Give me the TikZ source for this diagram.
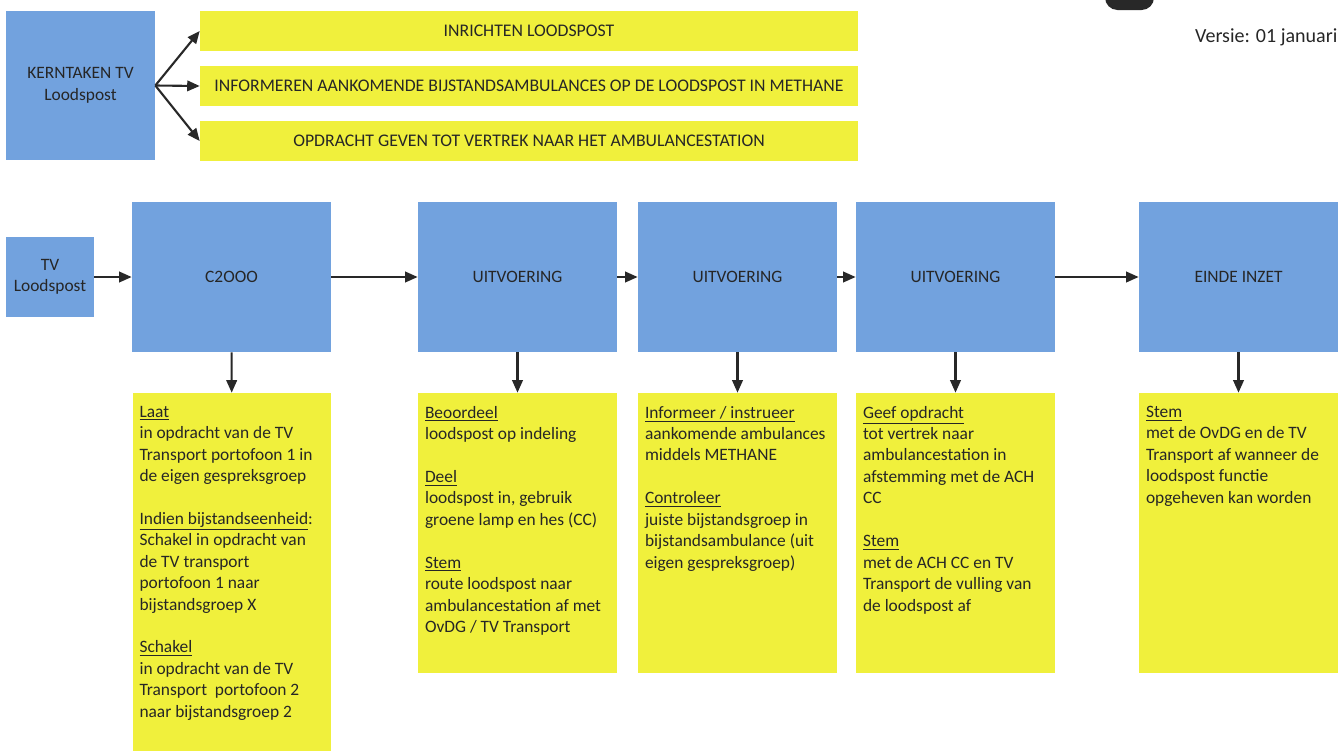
\documentclass[tikz,border=0pt]{standalone}
\usepackage{fontspec}
\setmainfont{Carlito}
\usepackage{xcolor}
\usetikzlibrary{arrows.meta}
\definecolor{taakblauw}{RGB}{114,162,222}
\definecolor{taakgeel}{RGB}{240,240,60}
\definecolor{pijlgrijs}{RGB}{40,40,40}
\newcommand{\leeg}{\\[\baselineskip]}

\begin{document}
\begin{tikzpicture}[x=0.02cm, y=-0.02cm,
	font=\fontsize{9.9}{12.2}\selectfont, text=black!85,
	blauw/.style={fill=taakblauw, minimum width=3.98cm, minimum height=3cm, align=center, inner sep=0pt},
	geel/.style={fill=taakgeel, minimum width=3.98cm, minimum height=5.6cm, inner sep=0pt},
	balk/.style={fill=taakgeel, minimum width=13.16cm, minimum height=0.8cm, inner sep=0pt, font=\fontsize{10.1}{12}\selectfont},
	tekst/.style={anchor=north west, align=left, inner sep=0.14cm, yshift=-0.12cm},
	pijl/.style={draw=pijlgrijs, line width=1.2pt, -{Triangle[length=0.25cm, width=0.21cm]}}]
	\useasboundingbox (0,0) rectangle (1341,751);
	\fill[pijlgrijs, rounded corners=0.25cm] (1105,-20) rectangle (1154,10);
	\node[anchor=west, font=\fontsize{11.4}{13}\selectfont] (versie) at (1189,37) {Versie: 01 januari};

	\node[blauw, minimum width=2.98cm, minimum height=2.98cm] (kern) at (80.5,85.5) {KERNTAKEN TV\\Loodspost};
	\node[balk] (inrichten) at (529,31) {INRICHTEN LOODSPOST};
	\node[balk] (informeren) at (529,86) {INFORMEREN AANKOMENDE BIJSTANDSAMBULANCES OP DE LOODSPOST IN METHANE};
	\node[balk] (opdracht) at (529,141) {OPDRACHT GEVEN TOT VERTREK NAAR HET AMBULANCESTATION};
	\draw[pijl] (kern.east) -- (inrichten.west);
	\draw[pijl] (kern.east) -- (informeren.west);
	\draw[pijl] (kern.east) -- (opdracht.west);

	\node[blauw, minimum width=1.76cm, minimum height=1.6cm] (tv) at (50,277) {TV\\Loodspost};
	\node[blauw] (ctwee) at (231.5,277) {C2OOO};
	\node[blauw] (uitv1) at (517.5,277) {UITVOERING};
	\node[blauw] (uitv2) at (737.5,277) {UITVOERING};
	\node[blauw] (uitv3) at (955.5,277) {UITVOERING};
	\node[blauw] (einde) at (1238.5,277) {EINDE INZET};
	\draw[pijl] (tv) -- (ctwee);
	\draw[pijl] (ctwee) -- (uitv1);
	\draw[pijl] (uitv1) -- (uitv2);
	\draw[pijl] (uitv2) -- (uitv3);
	\draw[pijl] (uitv3) -- (einde);

	\node[geel, minimum height=7.16cm] (ctweeblok) at (232,572) {};
	\node[geel] (uitv1blok) at (517.5,533) {};
	\node[geel] (uitv2blok) at (737.5,533) {};
	\node[geel] (uitv3blok) at (955.5,533) {};
	\node[geel] (eindeblok) at (1238.5,533) {};
	\draw[pijl] (ctwee) -- (ctweeblok);
	\draw[pijl] (uitv1) -- (uitv1blok);
	\draw[pijl] (uitv2) -- (uitv2blok);
	\draw[pijl] (uitv3) -- (uitv3blok);
	\draw[pijl] (einde) -- (eindeblok);

	\node[tekst] (ctweetekst) at (ctweeblok.north west) {\underline{Laat}\\in opdracht van de TV\\Transport portofoon 1 in\\de eigen gespreksgroep\leeg
		\underline{Indien bijstandseenheid}:\\Schakel in opdracht van\\de TV transport\\portofoon 1 naar\\bijstandsgroep X\leeg
		\underline{Schakel}\\in opdracht van de TV\\Transport\ \ portofoon 2\\naar bijstandsgroep 2};
	\node[tekst] (uitv1tekst) at (uitv1blok.north west) {\underline{Beoordeel}\\loodspost op indeling\leeg
		\underline{Deel}\\loodspost in, gebruik\\groene lamp en hes (CC)\leeg
		\underline{Stem}\\route loodspost naar\\ambulancestation af met\\OvDG / TV Transport};
	\node[tekst] (uitv2tekst) at (uitv2blok.north west) {\underline{Informeer / instrueer}\\aankomende ambulances\\middels METHANE\leeg
		\underline{Controleer}\\juiste bijstandsgroep in\\bijstandsambulance (uit\\eigen gespreksgroep)};
	\node[tekst] (uitv3tekst) at (uitv3blok.north west) {\underline{Geef opdracht}\\tot vertrek naar\\ambulancestation in\\afstemming met de ACH\\CC\leeg
		\underline{Stem}\\met de ACH CC en TV\\Transport de vulling van\\de loodspost af};
	\node[tekst] (eindetekst) at (eindeblok.north west) {\underline{Stem}\\met de OvDG en de TV\\Transport af wanneer de\\loodspost functie\\opgeheven kan worden};
\end{tikzpicture}
\end{document}
